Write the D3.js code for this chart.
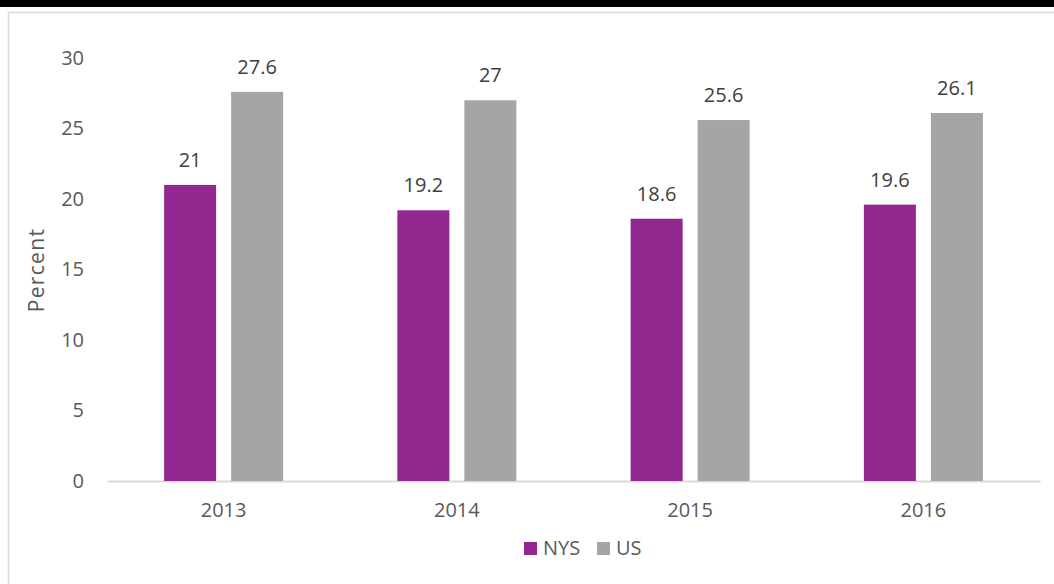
<!DOCTYPE html>
<html>
<head>
<meta charset="utf-8">
<script src="https://cdn.jsdelivr.net/npm/d3@7"></script>
<style>
  html, body { margin: 0; padding: 0; background: #fff; }
  svg { display: block; font-family: "Open Sans", sans-serif; }
</style>
</head>
<body>
<svg id="chart" width="1054" height="584"></svg>
<script>
const years = ["2013", "2014", "2015", "2016"];
const seriesNames = ["NYS", "US"];
const nysValues = [21, 19.2, 18.6, 19.6];
const usValues = [27.6, 27, 25.6, 26.1];
const yTicks = [0, 5, 10, 15, 20, 25, 30];
const colors = ["#92278F", "#A5A5A5"];

const svg = d3.select("#chart");
const W = 1054, H = 584;
const FS = 20;

// frame: black top strip and light panel border
svg.append("rect").attr("x", 0).attr("y", 0).attr("width", W).attr("height", 7).attr("fill", "#000");
svg.append("path")
  .attr("d", `M8.5,${H} V12.5 H${W}`)
  .attr("fill", "none").attr("stroke", "#D9D9D9").attr("stroke-width", 1.5);

const plot = { left: 107, right: 1040, top: 58, bottom: 481 };

const x = d3.scaleBand().domain(years).range([plot.left, plot.right]);
const y = d3.scaleLinear().domain([0, 30]).range([plot.bottom, plot.top]);
const barW = 52, gap = 15;
const groupW = barW * 2 + gap;

const data = years.map((yr, i) => ({ year: yr, values: [nysValues[i], usValues[i]] }));

// y axis labels (no line)
const yAxis = d3.axisLeft(y).tickValues(yTicks).tickSize(0).tickPadding(0);
const gy = svg.append("g").attr("transform", `translate(84,0)`).call(yAxis);
gy.select(".domain").remove();
gy.selectAll("text").attr("fill", "#595959").attr("font-size", FS).attr("font-family", "Open Sans, sans-serif");

// x axis
const xAxis = d3.axisBottom(x).tickSize(0).tickPadding(22);
const gx = svg.append("g").attr("transform", `translate(0,${plot.bottom})`).call(xAxis);
gx.select(".domain").attr("stroke", "#D9D9D9").attr("stroke-width", 2);
gx.selectAll("text").attr("fill", "#595959").attr("font-size", FS).attr("font-family", "Open Sans, sans-serif");

// bars
const groups = svg.append("g").selectAll("g").data(data).join("g")
  .attr("transform", d => `translate(${x(d.year) + x.bandwidth() / 2 - groupW / 2},0)`);

groups.selectAll("rect").data(d => d.values.map((v, j) => ({ v, j }))).join("rect")
  .attr("x", d => d.j * (barW + gap))
  .attr("y", d => y(d.v))
  .attr("width", barW)
  .attr("height", d => y(0) - y(d.v))
  .attr("fill", d => colors[d.j]);

groups.selectAll("text.val").data(d => d.values.map((v, j) => ({ v, j }))).join("text")
  .attr("class", "val")
  .attr("x", d => d.j * (barW + gap) + barW / 2)
  .attr("y", d => y(d.v) - 18)
  .attr("text-anchor", "middle")
  .attr("fill", "#404040")
  .attr("font-size", FS)
  .text(d => d.v);

// y title
svg.append("text")
  .attr("transform", "translate(44,270) rotate(-90)")
  .attr("text-anchor", "middle")
  .attr("fill", "#595959")
  .attr("font-size", 21)
  .attr("letter-spacing", 1.3)
  .text("Percent");

// legend
const legend = svg.append("g").attr("transform", "translate(524,542)");
const items = [{ name: seriesNames[0], x: 0 }, { name: seriesNames[1], x: 73 }];
items.forEach((it, i) => {
  legend.append("rect").attr("x", it.x).attr("y", 0).attr("width", 13).attr("height", 13).attr("fill", colors[i]);
  legend.append("text").attr("x", it.x + 19).attr("y", 13).attr("fill", "#595959")
    .attr("font-size", FS).text(it.name);
});
</script>
</body>
</html>
